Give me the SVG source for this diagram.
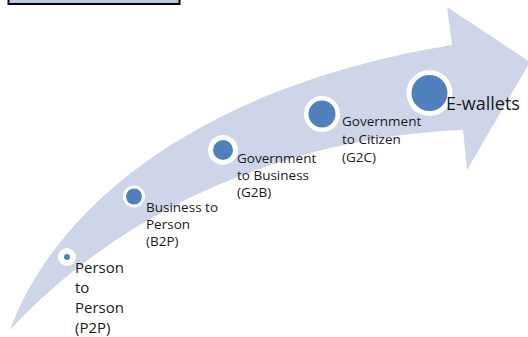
<svg xmlns="http://www.w3.org/2000/svg" width="528" height="337" viewBox="0 0 528 337">
  <style>
    .lbl { font-family: "Open Sans", "Liberation Sans", sans-serif; fill: #1a1a1a; }
    .ring { fill: #ffffff; }
    .dot { fill: #4f81bd; }
  </style>
  <rect x="0" y="0" width="528" height="337" fill="#ffffff"/>

  <!-- title box, cut off at the top edge -->
  <rect x="8.5" y="-12" width="171" height="16" fill="#b9c8e2" stroke="#000000" stroke-width="2"/>

  <!-- curved progress arrow -->
  <path id="arrow" d="M10,330 C50,220 180,90 452,45 L447,7 L530,62 L467,170 L463,130 C320,135 140,190 10,330 Z" fill="#cfd5e8"/>

  <g id="connectors"></g>

  <g id="p2p">
    <circle class="ring" cx="67" cy="257" r="9"/>
    <circle class="dot" cx="67" cy="257" r="3"/>
    <text class="lbl" font-size="15" x="75"><tspan x="75" y="273">Person</tspan><tspan x="75" y="293">to</tspan><tspan x="75" y="313">Person</tspan><tspan x="75" y="333">(P2P)</tspan></text>
  </g>

  <g id="b2p">
    <circle class="ring" cx="134" cy="196.5" r="11"/>
    <circle class="dot" cx="134" cy="196.5" r="8"/>
    <text class="lbl" font-size="13.5" x="146"><tspan x="146" y="212">Business to</tspan><tspan x="146" y="229">Person</tspan><tspan x="146" y="246">(B2P)</tspan></text>
  </g>

  <g id="g2b">
    <circle class="ring" cx="223" cy="150" r="15"/>
    <circle class="dot" cx="223" cy="150" r="10"/>
    <text class="lbl" font-size="13.5" x="237"><tspan x="237" y="163">Government</tspan><tspan x="237" y="180">to Business</tspan><tspan x="237" y="197">(G2B)</tspan></text>
  </g>

  <g id="g2c">
    <circle class="ring" cx="322" cy="114" r="18"/>
    <circle class="dot" cx="322" cy="114" r="13.5"/>
    <text class="lbl" font-size="13.5" x="342"><tspan x="342" y="126">Government</tspan><tspan x="342" y="144">to Citizen</tspan><tspan x="342" y="162">(G2C)</tspan></text>
  </g>

  <g id="ewallets">
    <circle class="ring" cx="429.5" cy="93" r="23"/>
    <circle class="dot" cx="429.5" cy="93" r="18"/>
    <text class="lbl" font-size="18" x="446" y="110">E-wallets</text>
  </g>
</svg>
